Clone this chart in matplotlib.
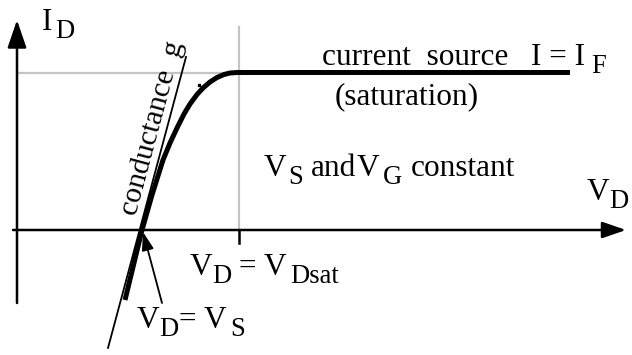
import matplotlib
matplotlib.use('Agg')
import matplotlib.pyplot as plt

plt.rcParams['font.family'] = ['Liberation Serif', 'DejaVu Serif']

# operating points of the drain characteristic (arbitrary units)
V_S = 1.25
V_DSAT = 2.22
I_F = 1.57

# drain current I_D versus drain voltage V_D
vd = [1.08, 1.25, 1.35, 1.46, 1.53, 1.60, 1.67, 1.73, 1.80, 1.86, 1.93, 2.00, 2.07, 2.13, 2.20, 5.53]
id_ = [-0.70, 0.00, 0.35, 0.70, 0.87, 1.02, 1.16, 1.26, 1.355, 1.42, 1.48, 1.525, 1.555, 1.57, 1.575, 1.575]

# tangent at V_D = V_S (conductance g)
tan_v = [0.91, 1.69]
tan_i = [-1.18, 1.73]

FS = 22.5
SUB_SCALE = 0.85
SUB_DROP = 5.5

fig = plt.figure(figsize=(6.32, 3.55), dpi=100)
ax = fig.add_axes([0, 0, 1, 1])
ax.set_xlim(-0.17, 6.15)
ax.set_ylim(-1.25, 2.30)
ax.axis('off')


def label(x, y, pieces, size=FS):
    """Write text pieces one after another; pieces are (text, is_sub, gap_pts)."""
    prev = None
    for s, sub, gap in pieces:
        fsz = size * SUB_SCALE if sub else size
        dy = -SUB_DROP if sub else 0
        if prev is None:
            prev = ax.text(x, y, s, fontsize=fsz, va='baseline', ha='left')
        else:
            prev = ax.annotate(s, xy=(1, y), xycoords=(prev, 'data'),
                               xytext=(gap, dy), textcoords='offset points',
                               fontsize=fsz, va='baseline', ha='left')
    return prev


# grey guide lines at saturation
ax.plot([V_DSAT, V_DSAT], [0, 2.03], color='#c4c4c4', lw=1.6, zorder=1)
ax.plot([0.01, 2.13], [I_F, I_F], color='#c4c4c4', lw=1.6, zorder=1)

# axes with arrow heads
ax.annotate('', xy=(6.09, 0), xytext=(-0.04, 0),
            arrowprops=dict(arrowstyle='-|>,head_length=1.45,head_width=0.5',
                            mutation_scale=10, lw=1.8, color='black',
                            shrinkA=0, shrinkB=0), zorder=3)
ax.annotate('', xy=(0, 2.10), xytext=(0, -0.73),
            arrowprops=dict(arrowstyle='-|>,head_length=1.7,head_width=0.58',
                            mutation_scale=10, lw=1.8, color='black',
                            shrinkA=0, shrinkB=0), zorder=3)
ax.plot([V_DSAT, V_DSAT], [0, -0.13], color='black', lw=1.8, zorder=3)

# characteristic and tangent
ax.plot(vd, id_, color='black', lw=3.6, solid_capstyle='butt', solid_joinstyle='round', zorder=4)
ax.plot(tan_v, tan_i, color='black', lw=1.3, zorder=4)
ax.plot([1.82], [1.45], marker='s', ms=1.8, color='black', zorder=4)

# arrow pointing at V_D = V_S
ax.annotate('', xy=(V_S + 0.01, -0.02), xytext=(1.45, -0.73),
            arrowprops=dict(arrowstyle='-|>,head_length=1.1,head_width=0.36',
                            mutation_scale=10, lw=1.3, color='black',
                            shrinkA=0, shrinkB=0), zorder=5)

label(0.25, 2.00, [('I', False, 0), ('D', True, 2)])
label(5.70, 0.30, [('V', False, 0), ('D', True, 0)])
label(3.05, 1.65, [('current  source', False, 0), ('I = I', False, 16), ('F', True, 5)])
label(3.18, 1.26, [('(saturation)', False, 0)])
label(2.47, 0.54, [('V', False, 0), ('S', True, 1), ('and', False, 6),
                   ('V', False, 0), ('G', True, 3), ('constant', False, 6)])
label(1.73, -0.45, [('V', False, 0), ('D', True, 0), ('=', False, 5),
                    ('V', False, 5), ('Dsat', True, 3)])
label(1.20, -0.98, [('V', False, 0), ('D', True, 0), ('=', False, 0),
                    ('V', False, 5), ('S', True, 3)])
ax.text(1.36, 1.02, 'conductance  g', fontsize=21.5, rotation=75,
        ha='center', va='center', rotation_mode='anchor')

fig.savefig('out.png', dpi=100)
